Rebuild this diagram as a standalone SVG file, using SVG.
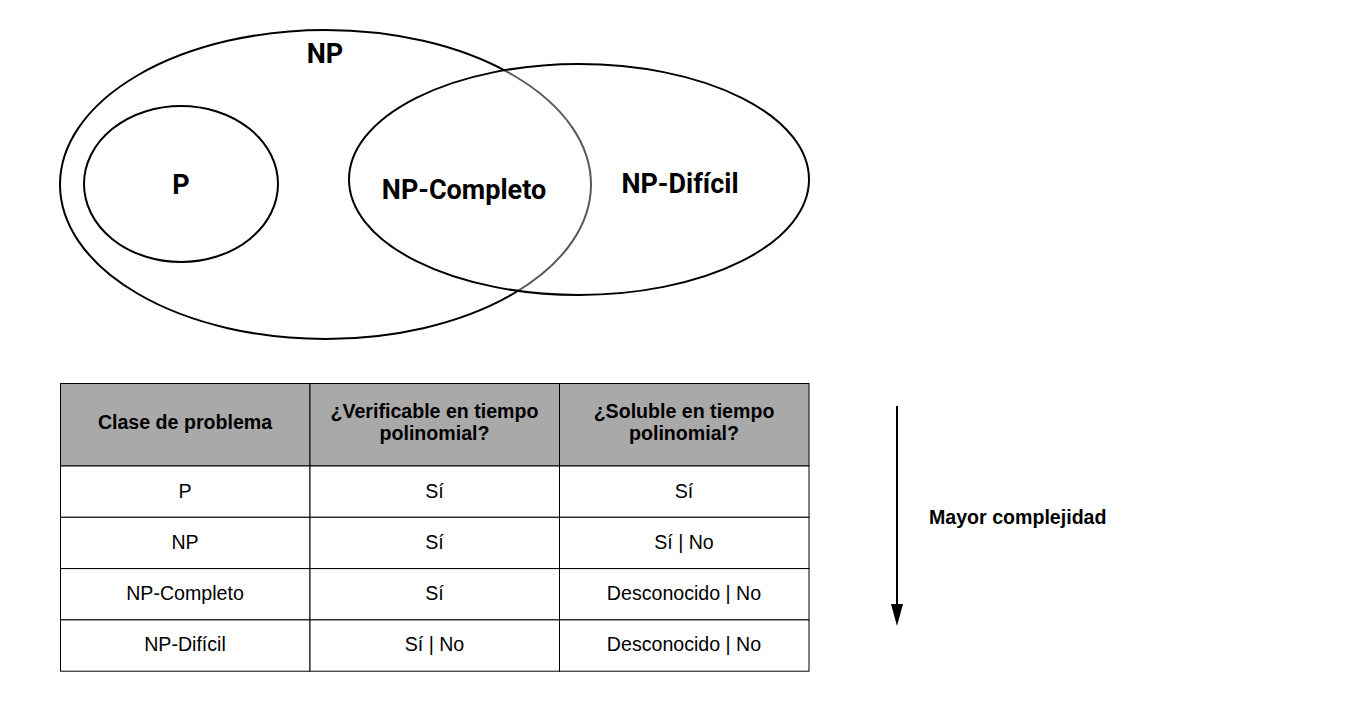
<svg xmlns="http://www.w3.org/2000/svg" width="1347" height="702" viewBox="0 0 1347 702">
<style>
.venn{font-family:Roboto,"Liberation Sans",sans-serif;font-weight:bold;font-size:27px;fill:#000;text-anchor:middle}
.th{font-family:"Liberation Sans",Arial,sans-serif;font-weight:bold;font-size:19.6px;fill:#000;text-anchor:middle}
.td{font-family:"Liberation Sans",Arial,sans-serif;font-size:19.6px;fill:#000;text-anchor:middle}
.cell{stroke:#000;stroke-width:1}
.e{stroke:#000;stroke-width:2}
</style>
<rect width="1347" height="702" fill="#fff"/>
<g id="np">
<ellipse class="e" cx="325.5" cy="184.5" rx="265.5" ry="154.5" fill="#fff"/>
<text class="venn" x="325" y="63">NP</text>
</g>
<g id="p">
<ellipse class="e" cx="181" cy="184" rx="97" ry="78" fill="#fff"/>
<text class="venn" x="181" y="194">P</text>
</g>
<g id="nphard">
<ellipse class="e" cx="579" cy="179.5" rx="230" ry="115.5" fill="#fff" fill-opacity="0.35"/>
<text class="venn" x="464" y="199">NP-Completo</text>
<text class="venn" x="680" y="193">NP-Difícil</text>
</g>
<g id="table">
<rect class="cell" x="60.5" y="383.5" width="249.5" height="82.5" fill="#a9a9a9"/>
<rect class="cell" x="310" y="383.5" width="249.5" height="82.5" fill="#a9a9a9"/>
<rect class="cell" x="559.5" y="383.5" width="249.5" height="82.5" fill="#a9a9a9"/>
<text class="th" x="185" y="429">Clase de problema</text>
<text class="th" x="434.5" y="418">¿Verificable en tiempo</text>
<text class="th" x="434.5" y="440">polinomial?</text>
<text class="th" x="684" y="418">¿Soluble en tiempo</text>
<text class="th" x="684" y="440">polinomial?</text>
<g fill="#fff">
<rect class="cell" x="60.5" y="466" width="249.5" height="51.3"/>
<rect class="cell" x="310" y="466" width="249.5" height="51.3"/>
<rect class="cell" x="559.5" y="466" width="249.5" height="51.3"/>
<rect class="cell" x="60.5" y="517.3" width="249.5" height="51.3"/>
<rect class="cell" x="310" y="517.3" width="249.5" height="51.3"/>
<rect class="cell" x="559.5" y="517.3" width="249.5" height="51.3"/>
<rect class="cell" x="60.5" y="568.6" width="249.5" height="51.3"/>
<rect class="cell" x="310" y="568.6" width="249.5" height="51.3"/>
<rect class="cell" x="559.5" y="568.6" width="249.5" height="51.3"/>
<rect class="cell" x="60.5" y="619.9" width="249.5" height="51.3"/>
<rect class="cell" x="310" y="619.9" width="249.5" height="51.3"/>
<rect class="cell" x="559.5" y="619.9" width="249.5" height="51.3"/>
</g>
<text class="td" x="185" y="498">P</text>
<text class="td" x="434.5" y="498">Sí</text>
<text class="td" x="684" y="498">Sí</text>
<text class="td" x="185" y="549">NP</text>
<text class="td" x="434.5" y="549">Sí</text>
<text class="td" x="684" y="549">Sí | No</text>
<text class="td" x="185" y="600">NP-Completo</text>
<text class="td" x="434.5" y="600">Sí</text>
<text class="td" x="684" y="600">Desconocido | No</text>
<text class="td" x="185" y="651">NP-Difícil</text>
<text class="td" x="434.5" y="651">Sí | No</text>
<text class="td" x="684" y="651">Desconocido | No</text>
</g>
<g id="connectors">
<line x1="897" y1="406" x2="897" y2="608" stroke="#000" stroke-width="2"/>
<polygon points="891,604 903,604 897,626" fill="#000"/>
</g>
<g id="label">
<text class="th" x="929" y="524" style="text-anchor:start">Mayor complejidad</text>
</g>
</svg>
